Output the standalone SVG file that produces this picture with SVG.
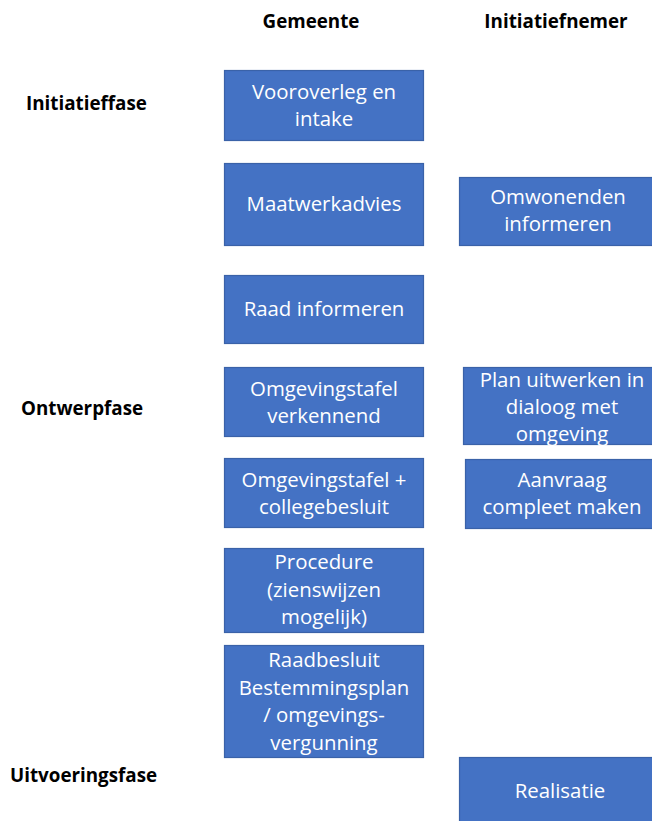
<svg xmlns="http://www.w3.org/2000/svg" width="652" height="821" viewBox="0 0 652 821">
<style>
.box{fill:#4472C4;stroke:#3A62A8;stroke-width:1.2}
.bt{fill:#FFFFFF;font-family:"Open Sans","Liberation Sans",sans-serif;font-size:20.4px;text-anchor:middle}
.hd{fill:#000000;font-family:"Open Sans","Liberation Sans",sans-serif;font-size:18.8px;font-weight:bold}
</style>
<rect width="652" height="821" fill="#FFFFFF"/>
<g id="labels">
<text class="hd" x="311" y="28" text-anchor="middle">Gemeente</text>
<text class="hd" x="556" y="28" text-anchor="middle">Initiatiefnemer</text>
<text class="hd" x="26" y="110">Initiatieffase</text>
<text class="hd" x="21" y="415">Ontwerpfase</text>
<text class="hd" x="10" y="782">Uitvoeringsfase</text>
</g>
<g id="connectors"></g>
<g id="n1"><rect class="box" x="224.5" y="70.5" width="199" height="70"/>
<text class="bt" x="324" y="99">Vooroverleg en</text><text class="bt" x="324" y="126">intake</text></g>
<g id="n2"><rect class="box" x="224.5" y="163.5" width="199" height="82"/>
<text class="bt" x="324" y="211">Maatwerkadvies</text></g>
<g id="n3"><rect class="box" x="459.5" y="177.5" width="200" height="68"/>
<text class="bt" x="558" y="204">Omwonenden</text><text class="bt" x="558" y="231">informeren</text></g>
<g id="n4"><rect class="box" x="224.5" y="275.5" width="199" height="68"/>
<text class="bt" x="324" y="316">Raad informeren</text></g>
<g id="n5"><rect class="box" x="224.5" y="367.5" width="199" height="69"/>
<text class="bt" x="324" y="396">Omgevingstafel</text><text class="bt" x="324" y="423">verkennend</text></g>
<g id="n6"><rect class="box" x="463.5" y="367.5" width="196" height="77"/>
<text class="bt" x="562" y="387">Plan uitwerken in</text><text class="bt" x="562" y="414">dialoog met</text><text class="bt" x="562" y="441">omgeving</text></g>
<g id="n7"><rect class="box" x="224.5" y="458.5" width="199" height="69"/>
<text class="bt" x="324" y="487">Omgevingstafel +</text><text class="bt" x="324" y="514">collegebesluit</text></g>
<g id="n8"><rect class="box" x="465.5" y="459.5" width="194" height="69"/>
<text class="bt" x="562" y="487">Aanvraag</text><text class="bt" x="562" y="514">compleet maken</text></g>
<g id="n9"><rect class="box" x="224.5" y="548.5" width="199" height="84"/>
<text class="bt" x="324" y="569">Procedure</text><text class="bt" x="324" y="597">(zienswijzen</text><text class="bt" x="324" y="624">mogelijk)</text></g>
<g id="n10"><rect class="box" x="224.5" y="645.5" width="199" height="112"/>
<text class="bt" x="324" y="667">Raadbesluit</text><text class="bt" x="324" y="695">Bestemmingsplan</text><text class="bt" x="324" y="722">/ omgevings-</text><text class="bt" x="324" y="750">vergunning</text></g>
<g id="n11"><rect class="box" x="459.5" y="757.5" width="200" height="70"/>
<text class="bt" x="560" y="798">Realisatie</text></g>
</svg>
